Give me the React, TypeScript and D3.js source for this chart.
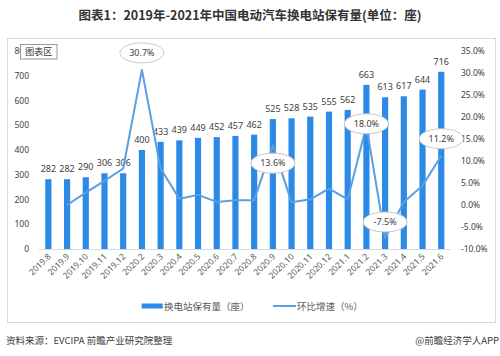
import React from "react";
import * as d3 from "d3";

const categories = ["2019.8","2019.9","2019.10","2019.11","2019.12","2020.2","2020.3","2020.4","2020.5","2020.6","2020.7","2020.8","2020.9","2020.10","2020.11","2020.12","2021.1","2021.2","2021.3","2021.4","2021.5","2021.6"];
const stations = [282,282,290,306,306,400,433,439,449,452,457,462,525,528,535,555,562,663,613,617,644,716];
const growth: (number | null)[] = [null,0,2.8,5.5,8.3,30.7,8.3,1.4,2.3,0.7,1.1,1.1,13.6,0.6,1.3,3.7,1.3,18.0,-7.5,0.7,4.4,11.2];
const leftTicks = [0,100,200,300,400,500,600,700,800];
const rightTicks = [-10,-5,0,5,10,15,20,25,30,35];
const labelled = ["2020.2","2020.9","2021.2","2021.3","2021.6"];

const title = "图表1：2019年-2021年中国电动汽车换电站保有量(单位：座)";
const legendBar = "换电站保有量（座）";
const legendLine = "环比增速（%）";
const source = "资料来源：EVCIPA 前瞻产业研究院整理";
const brand = "@前瞻经济学人APP";

const FONT = "'Noto Sans', 'Noto Sans CJK SC', sans-serif";
const BAR = "#2b8ae6";
const LINE = "#5a9ee6";
const TXT = "#404040";

export default function App() {
  const x = d3.scaleBand<string>().domain(categories).range([39, 450.6]).padding(0);
  const yL = d3.scaleLinear().domain([0, 800]).range([249, 51]);
  const yR = d3.scaleLinear().domain([-10, 35]).range([249, 51]);
  const bw = x.bandwidth() * 0.33;
  const cx = (c: string) => (x(c) as number) + x.bandwidth() / 2;

  const pts = categories.map((c, i) => ({ c, v: growth[i] }));
  const line = d3
    .line<{ c: string; v: number | null }>()
    .defined((d) => d.v !== null)
    .x((d) => cx(d.c))
    .y((d) => yR(d.v as number));

  const labelOffset: Record<string, number> = {
    "2020.2": -17,
    "2020.9": 18,
    "2021.2": -2,
    "2021.3": -16,
    "2021.6": -17,
  };

  return (
    <svg width={500} height={356} style={{ position: "absolute", left: 0, top: 0, background: "#fff" }} fontFamily={FONT}>
      <rect x={0} y={0} width={500} height={356} fill="#fff" />
      <text x={250} y={19.5} textAnchor="middle" fontSize={12.5} fontWeight="bold" fill="#333" fontFamily="'Noto Sans CJK SC', sans-serif">{title}</text>
      <rect x={7.5} y={38.5} width={488} height={284} fill="#fff" stroke="#d9d9d9" strokeWidth={1} />

      {/* left axis */}
      {leftTicks.map((t) => (
        <text key={"l" + t} x={29} y={yL(t) + 3} textAnchor="end" fontSize={8.5} fill={TXT}>{t}</text>
      ))}
      {/* right axis */}
      {rightTicks.map((t) => (
        <text key={"r" + t} x={461} y={yR(t) + 3} textAnchor="start" fontSize={8.5} fill={TXT}>{t.toFixed(1) + "%"}</text>
      ))}
      <line x1={39} x2={450.6} y1={yL(0) + 0.5} y2={yL(0) + 0.5} stroke="#d9d9d9" />

      {/* bars */}
      {categories.map((c, i) => (
        <g key={"b" + c}>
          <rect x={cx(c) - bw / 2} y={yL(stations[i])} width={bw} height={yL(0) - yL(stations[i])} fill={BAR} />
          <text x={cx(c)} y={yL(stations[i]) - 7} textAnchor="middle" fontSize={9} fill={TXT}>{stations[i]}</text>
        </g>
      ))}

      {/* x labels */}
      {categories.map((c) => (
        <text key={"x" + c} transform={`translate(${cx(c) + 3},${yL(0) + 8}) rotate(-45)`} textAnchor="end" fontSize={8.5} fill="#595959">{c}</text>
      ))}

      {/* line */}
      <path d={line(pts) || ""} fill="none" stroke={LINE} strokeWidth={2} strokeLinejoin="round" />

      {/* callouts */}
      {labelled.map((c) => {
        const i = categories.indexOf(c);
        const v = growth[i] as number;
        const cy = yR(v) + labelOffset[c];
        return (
          <g key={"e" + c}>
            <ellipse cx={cx(c)} cy={cy} rx={22} ry={10} fill="#fff" stroke="#c8c8c8" strokeWidth={1} />
            <text x={cx(c)} y={cy + 3.2} textAnchor="middle" fontSize={9} fill={TXT}>{v.toFixed(1) + "%"}</text>
          </g>
        );
      })}

      {/* chart area tag */}
      <rect x={20.5} y={44.5} width={36.5} height={14.5} fill="#fff" stroke="#7f7f7f" strokeWidth={0.8} />
      <text x={38.7} y={55} textAnchor="middle" fontSize={9} fill="#333" fontFamily="'Noto Sans CJK SC', sans-serif">图表区</text>

      {/* legend */}
      <rect x={141.7} y={303.5} width={21} height={5} fill={BAR} />
      <text x={164} y={309.5} fontSize={9.5} fill="#595959" fontFamily="'Noto Sans CJK SC', sans-serif">{legendBar}</text>
      <line x1={273} x2={296} y1={306} y2={306} stroke={LINE} strokeWidth={2} />
      <text x={297} y={309.5} fontSize={9.5} fill="#595959" fontFamily="'Noto Sans CJK SC', sans-serif">{legendLine}</text>

      {/* footer */}
      <text x={6} y={344} fontSize={9.5} fill={TXT} fontFamily="'Noto Sans CJK SC', sans-serif">{source}</text>
      <text x={499} y={344} textAnchor="end" fontSize={9.5} fill={TXT} fontFamily="'Noto Sans CJK SC', sans-serif">{brand}</text>
    </svg>
  );
}
